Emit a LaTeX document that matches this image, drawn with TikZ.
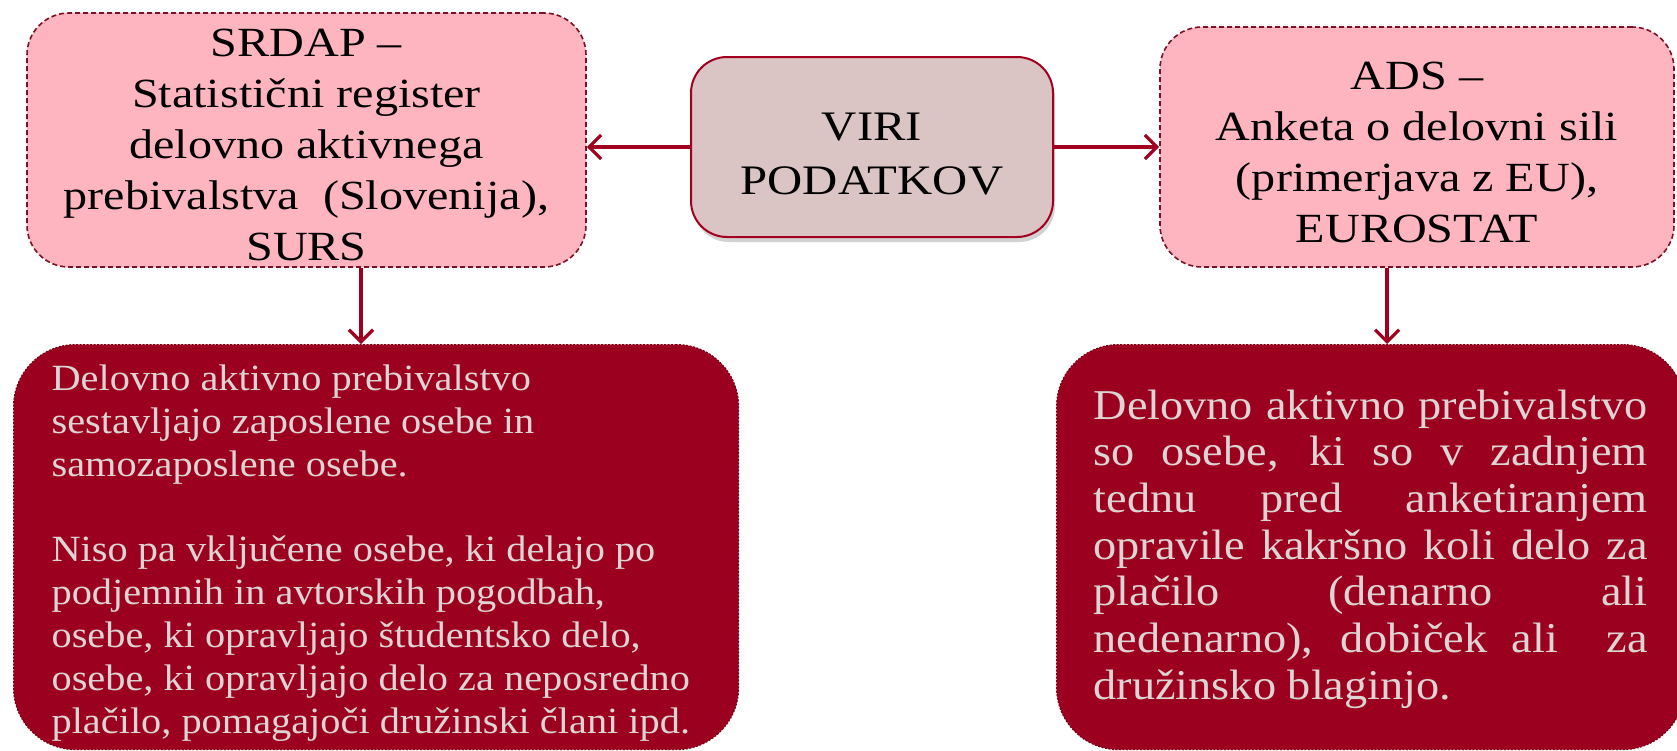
\documentclass[tikz,border=0pt]{standalone}
\usepackage{fontspec}
\setmainfont[FakeStretch=1.16]{Liberation Serif}
\newfontfamily\infofont[FakeStretch=1.09]{Liberation Serif}
\usetikzlibrary{arrows.meta,shadows}
\definecolor{pinkfill}{HTML}{FFB5C0}
\definecolor{pinkline}{HTML}{7E1026}
\definecolor{virifill}{HTML}{DAC4C4}
\definecolor{viriline}{HTML}{A3001F}
\definecolor{darkfill}{HTML}{9C001F}
\definecolor{darkline}{HTML}{7A0018}
\definecolor{lighttext}{HTML}{DDD4D4}
\definecolor{arrowcol}{HTML}{A0001E}
\tikzset{
  srcbox/.style={draw=pinkline, fill=pinkfill, dashed, dash pattern=on 5pt off 3pt, line width=1.6pt,
     rounded corners=42pt, inner sep=0pt, align=center, text=black,
     font=\fontsize{41.5}{51}\selectfont},
  viribox/.style={draw=viriline, fill=virifill, line width=2pt, rounded corners=36pt,
     inner sep=0pt, align=center, text=black, font=\fontsize{42}{53.5}\selectfont,
     drop shadow={opacity=0.35, shadow xshift=2pt, shadow yshift=-5pt}},
  infobox/.style={draw=darkline, fill=darkfill, dash pattern=on 2pt off 1.5pt, line width=1.2pt,
     rounded corners=62pt, inner sep=0pt, text=lighttext},
  conn/.style={draw=arrowcol, line width=3.2pt, -{Straight Barb[length=12pt,width=24pt,line width=3.2pt]}}
}
\begin{document}
\begin{tikzpicture}[x=1pt,y=-1pt]
\useasboundingbox (0,0) rectangle (1677,750);
\fill[white] (0,0) rectangle (1677,750);
% top boxes
\node[srcbox, minimum width=559pt, minimum height=254pt] (srdap) at (306.5,140)
  {\rule{0pt}{37pt}SRDAP –\\Statistični register\\delovno aktivnega\\prebivalstva \ (Slovenija),\\SURS};
\node[viribox, minimum width=362pt, minimum height=180pt] (viri) at (872,147)
  {\rule{0pt}{42pt}VIRI\\PODATKOV};
\node[srcbox, minimum width=514pt, minimum height=240pt] (ads) at (1417,147)
  {\rule{0pt}{38pt}ADS –\\Anketa o delovni sili\\(primerjava z EU),\\EUROSTAT};
% bottom boxes
\node[infobox, anchor=north west, inner xsep=38pt] (srdapinfo) at (13,344)
  {\parbox[c][405pt][t]{649pt}{\raggedright\infofont\fontsize{37}{42.9}\selectfont
   \vspace*{20pt}%
   Delovno aktivno prebivalstvo\\
   sestavljajo zaposlene osebe in\\
   samozaposlene osebe.\\[42.9pt]
   Niso pa vključene osebe, ki delajo po\\
   podjemnih in avtorskih pogodbah,\\
   osebe, ki opravljajo študentsko delo,\\
   osebe, ki opravljajo delo za neposredno\\
   plačilo, pomagajoči družinski člani ipd.}};
\node[infobox, anchor=north west, inner xsep=37pt] (adsinfo) at (1056,344)
  {\parbox[c][405pt][t]{554pt}{\infofont\fontsize{42.5}{46.7}\selectfont
   \vspace*{45pt}%
   \makebox[554pt][s]{Delovno aktivno prebivalstvo}\par
   \makebox[554pt][s]{so osebe, ki so v zadnjem}\par
   \makebox[554pt][s]{tednu pred anketiranjem}\par
   \makebox[554pt][s]{opravile kakršno koli delo za}\par
   \makebox[554pt][s]{plačilo (denarno ali}\par
   \makebox[554pt][s]{nedenarno), dobiček ali \ za}\par
   \makebox[554pt][l]{družinsko blaginjo.}}};
% connectors
\draw[conn] (viri.west) -- (srdap.east |- viri.west);
\draw[conn] (viri.east) -- (ads.west |- viri.east);
\draw[conn] (srdap.south -| 361,0) -- (srdapinfo.north -| 361,0);
\draw[conn] (ads.south -| 1387,0) -- (adsinfo.north -| 1387,0);
\end{tikzpicture}
\end{document}
